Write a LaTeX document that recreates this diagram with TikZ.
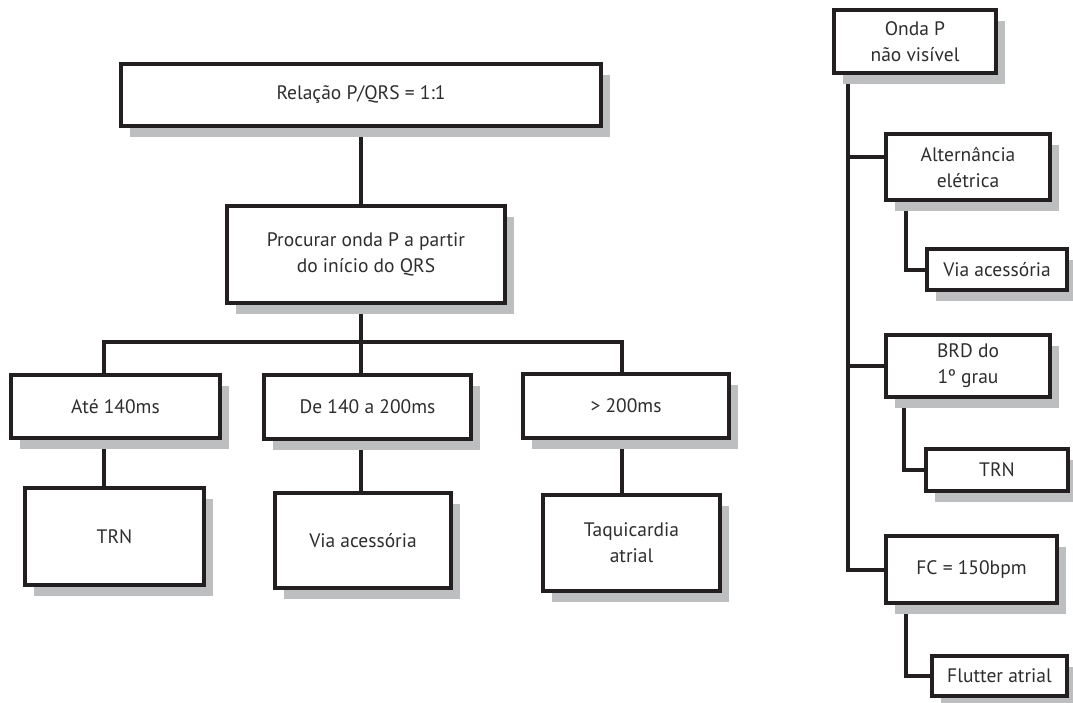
\documentclass[tikz,border=0pt]{standalone}
\usepackage{fontspec}
\setmainfont{PT Sans}
\usetikzlibrary{shadows,backgrounds}
\definecolor{inkc}{HTML}{231F20}
\definecolor{shadowc}{HTML}{BCBEC0}
\definecolor{textc}{HTML}{2E2E2E}
\begin{document}
\begin{tikzpicture}[x=1pt,y=-1pt,
  box/.style={draw=inkc, line width=4pt, fill=white, inner sep=0pt,
    text=textc, align=center, font=\fontsize{19.5}{26}\selectfont,
    drop shadow={shadow xshift=9pt, shadow yshift=-11pt, fill=shadowc, opacity=1}},
  link/.style={draw=inkc, line width=4pt}]
\useasboundingbox (0,0) rectangle (1073,702);
% left tree
\node[box, minimum width=480pt, minimum height=62pt] (rel) at (361,95) {Relação P/QRS = 1:1};
\node[box, minimum width=278pt, minimum height=97pt] (proc) at (366,254.5) {Procurar onda P a partir\\do início do QRS};
\node[box, minimum width=209pt, minimum height=63pt] (a1) at (115.5,406.5) {Até 140ms};
\node[box, minimum width=207pt, minimum height=64pt] (a2) at (367.5,407) {De 140 a 200ms};
\node[box, minimum width=206pt, minimum height=64pt] (a3) at (626,406) {> 200ms};
\node[box, minimum width=179pt, minimum height=97pt] (b1) at (114.5,536.5) {TRN};
\node[box, minimum width=176pt, minimum height=95pt] (b2) at (363,540.5) {Via acessória};
\node[box, minimum width=177pt, minimum height=96pt] (b3) at (631.5,543) {Taquicardia\\atrial};
\coordinate (busL) at (104,342);
\coordinate (busC) at (361,342);
\coordinate (busR) at (622,342);
% right tree
\node[box, minimum width=162pt, minimum height=63pt] (r0) at (915,41.5) {Onda P\\não visível};
\node[box, minimum width=164pt, minimum height=66pt] (r1) at (968,167) {Alternância\\elétrica};
\node[box, minimum width=140pt, minimum height=41pt] (r1b) at (997,269.5) {Via acessória};
\node[box, minimum width=164pt, minimum height=62pt] (r2) at (968,366) {BRD do\\1º grau};
\node[box, minimum width=142pt, minimum height=42pt] (r2b) at (997,470) {TRN};
\node[box, minimum width=171pt, minimum height=67pt] (r3) at (971.5,569.5) {FC = 150bpm};
\node[box, minimum width=135pt, minimum height=40pt] (r3b) at (999.5,676) {Flutter atrial};
\coordinate (tr) at (848,0);
\coordinate (k1) at (906,0);
\coordinate (k2) at (904,0);
\begin{scope}[on background layer]
\draw[link] (rel.south -| busC) -- (proc.north -| busC);
\draw[link] (proc.south -| busC) -- (busC);
\draw[link] (a1.north -| busL) -- (busL) -- (busR) -- (a3.north -| busR);
\draw[link] (busC) -- (a2.north -| busC);
\draw[link] (a1.south -| busL) -- (b1.north -| busL);
\draw[link] (a2.south -| busC) -- (b2.north -| busC);
\draw[link] (a3.south -| busR) -- (b3.north -| busR);
\draw[link] (r0.south -| tr) -- (tr |- r3.west) -- (r3.west);
\draw[link] (tr |- r2.west) -- (r2.west);
\draw[link] ([yshift=10pt]r1.west -| tr) -- ([yshift=10pt]r1.west);
\draw[link] (r1.south -| k1) |- (r1b.west);
\draw[link] (r2.south -| k2) |- (r2b.west);
\draw[link] (r3.south -| k1) |- (r3b.west);
\end{scope}
\end{tikzpicture}
\end{document}
